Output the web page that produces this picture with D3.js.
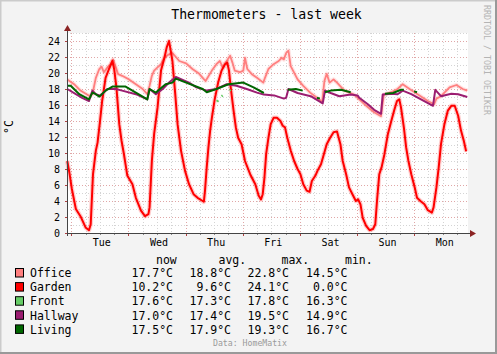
<!DOCTYPE html>
<html>
<head>
<meta charset="utf-8">
<script src="https://cdn.jsdelivr.net/npm/d3@7"></script>
<style>
  body { margin: 0; background: #f3f3f3; }
  svg { display: block; font-family: "DejaVu Sans Mono", monospace; }
</style>
</head>
<body>
<div id="chart"></div>
<script>
// days since Tue 00:00, value in °C
var days = ["Tue", "Wed", "Thu", "Fri", "Sat", "Sun", "Mon"];
var yLabels = [0, 2, 4, 6, 8, 10, 12, 14, 16, 18, 20, 22, 24];

var officeData = [[-0.07,19.2],[0.05,18.6],[0.16,17.8],[0.31,17.15],[0.37,17.35],[0.43,19.4],[0.49,20.5],[0.53,20.8],
  [0.57,20.1],[0.63,20.7],[0.69,21.1],[0.73,21.7],[0.78,20.7],[0.82,19.85],[0.89,19.65],[1.01,19.2],[1.13,18.6],
  [1.25,18.0],[1.33,17.35],[1.37,18.4],[1.41,19.65],[1.45,20.3],[1.51,20.7],[1.57,21.1],[1.63,21.9],[1.70,22.3],
  [1.77,22.5],[1.83,22.0],[1.89,21.5],[2.01,21.2],[2.12,20.5],[2.24,19.9],[2.30,19.4],[2.35,19.0],[2.46,20.3],
  [2.54,21.1],[2.60,21.5],[2.65,20.7],[2.72,21.5],[2.78,22.15],[2.82,21.3],[2.86,20.3],[2.95,20.1],[3.01,20.3],
  [3.04,21.9],[3.08,20.5],[3.16,19.85],[3.25,19.4],[3.36,18.8],[3.39,19.4],[3.45,20.5],[3.54,21.1],[3.63,21.5],
  [3.68,21.9],[3.72,21.7],[3.76,22.5],[3.80,22.8],[3.84,20.85],[3.96,19.2],[4.06,18.4],[4.18,17.55],[4.30,16.9],
  [4.39,16.4],[4.43,19.0],[4.47,19.9],[4.52,18.8],[4.59,19.2],[4.65,18.8],[4.78,17.8],[4.95,17.3],[5.13,16.1],
  [5.30,15.1],[5.42,14.6],[5.47,17.3],[5.60,17.6],[5.71,18.0],[5.80,18.6],[5.92,18.0],[6.06,17.35],[6.24,16.5],
  [6.35,16.1],[6.39,16.8],[6.47,17.1],[6.62,18.2],[6.74,18.5],[6.85,18.0],[6.93,17.8]];

var gardenData = [[-0.07,9.0],[-0.03,7.4],[0.01,5.5],[0.08,3.0],[0.16,2.1],[0.25,0.7],[0.31,0.35],[0.34,1.1],
  [0.38,7.35],[0.43,10.3],[0.46,11.3],[0.50,13.8],[0.54,16.5],[0.60,19.4],[0.66,20.5],[0.72,21.5],[0.75,20.5],
  [0.79,18.2],[0.84,13.6],[0.88,11.5],[0.92,9.9],[0.98,7.2],[1.07,6.1],[1.13,4.4],[1.22,2.8],[1.29,2.1],[1.35,2.35],
  [1.37,3.2],[1.41,9.0],[1.45,12.4],[1.51,15.7],[1.57,20.3],[1.63,21.9],[1.67,23.2],[1.71,24.0],[1.74,22.8],
  [1.77,21.5],[1.82,17.3],[1.86,13.6],[1.92,10.3],[1.99,7.8],[2.06,6.1],[2.14,4.85],[2.21,4.4],[2.30,4.0],
  [2.32,3.9],[2.34,5.3],[2.37,8.2],[2.40,10.7],[2.43,12.8],[2.46,14.4],[2.51,16.7],[2.57,18.8],[2.63,20.3],
  [2.69,21.1],[2.73,21.3],[2.76,20.3],[2.79,18.2],[2.84,15.3],[2.88,13.2],[2.92,11.9],[2.98,11.1],[3.04,9.0],
  [3.13,7.35],[3.22,6.1],[3.28,4.65],[3.32,4.2],[3.35,4.85],[3.38,6.9],[3.41,9.85],[3.45,11.9],[3.49,13.6],
  [3.54,14.4],[3.60,14.4],[3.66,14.0],[3.70,13.4],[3.74,13.2],[3.78,11.9],[3.84,10.3],[3.90,9.0],[3.96,8.0],
  [4.01,7.35],[4.06,6.1],[4.12,5.3],[4.17,5.15],[4.21,6.5],[4.27,7.15],[4.31,7.8],[4.37,8.6],[4.42,9.85],
  [4.47,11.1],[4.53,11.9],[4.59,12.6],[4.65,12.7],[4.71,11.1],[4.75,9.0],[4.81,7.35],[4.86,5.7],[4.92,4.85],
  [4.98,4.0],[5.02,4.2],[5.06,3.6],[5.10,1.9],[5.16,0.9],[5.22,0.35],[5.28,0.5],[5.32,1.1],[5.35,4.0],[5.39,7.35],
  [5.43,8.2],[5.48,9.85],[5.54,12.35],[5.60,14.0],[5.65,15.3],[5.70,16.5],[5.74,16.7],[5.77,15.7],[5.82,13.2],
  [5.86,10.7],[5.90,9.0],[5.95,7.35],[6.01,5.7],[6.05,4.4],[6.11,4.0],[6.18,3.6],[6.24,2.85],[6.31,2.55],
  [6.34,3.2],[6.39,5.7],[6.43,8.2],[6.47,11.1],[6.53,13.6],[6.59,15.3],[6.65,15.9],[6.71,15.9],[6.77,14.65],
  [6.82,12.8],[6.87,11.5],[6.91,10.2]];

// Front is almost completely hidden under the other lines, only these bits show
var frontData = [[2.55,16.4],[2.57,16.6],null,[2.63,17.1],[2.65,17.2],null,[2.77,17.8],[2.79,17.9]];

var hallwayData = [[-0.07,18.0],[0.08,17.35],[0.19,16.9],[0.31,16.5],[0.37,17.8],[0.43,17.35],[0.51,17.15],
  [0.63,18.0],[0.78,18.0],[0.89,17.8],[1.13,17.35],[1.33,16.7],[1.37,18.0],[1.48,17.35],[1.60,18.0],[1.71,18.8],
  [1.83,19.5],[2.06,18.8],[2.19,18.2],[2.37,17.8],[2.54,18.0],[2.72,18.6],[2.89,18.4],[3.07,18.0],[3.25,17.55],
  [3.37,17.3],[3.55,17.2],[3.72,16.8],[3.76,16.9],[3.80,18.0],[3.96,17.5],[4.19,17.1],[4.40,16.2],[4.44,17.8],
  [4.54,17.5],[4.69,17.1],[4.89,17.3],[5.01,17.2],[5.04,16.9],[5.19,16.1],[5.30,15.4],[5.42,14.9],[5.45,17.3],
  [5.60,17.4],[5.71,17.35],[5.80,17.8],[5.95,17.35],[6.12,16.7],[6.33,15.9],[6.37,17.9],[6.47,17.1],[6.65,17.4],
  [6.77,17.35],[6.93,17.0]];

var livingData = [[-0.07,18.4],[-0.01,18.4],[0.14,17.35],[0.31,16.7],[0.37,17.55],[0.43,17.35],[0.49,17.05],
  [0.60,17.8],[0.72,18.3],[0.95,18.3],[1.13,17.55],[1.33,16.7],[1.37,18.0],[1.48,17.55],[1.65,18.6],[1.77,18.8],
  [1.83,19.3],[2.01,18.8],[2.30,18.0],[2.37,17.6],[2.54,18.0],[2.75,18.6],[3.01,18.8],[3.19,18.2],[3.37,17.5],null,
  [3.79,17.9],[3.93,18.0],[4.05,17.8],null,
  [4.30,16.9],[4.35,16.8],null,
  [4.44,17.6],[4.54,17.8],[4.72,17.9],[4.89,17.6],null,
  [5.49,17.4],[5.63,17.5],[5.77,17.9],[5.82,17.9],null,
  [6.00,17.7],[6.05,17.6]];

var names = ["Office", "Garden", "Front", "Hallway", "Living"];
var nowVals = ["17.7", "10.2", "17.6", "17.0", "17.5"];
var avgVals = ["18.8", "9.6", "17.3", "17.4", "17.9"];
var maxVals = ["22.8", "24.1", "17.8", "19.5", "19.3"];
var minVals = ["14.5", "0.0", "16.3", "14.9", "16.7"];

var colors = ["#ff7f7f", "#ff0000", "#66cc66", "#9b1d71", "#006600"];

var W = 497, H = 354;

var svg = d3.select("#chart").append("svg")
    .attr("width", W)
    .attr("height", H);

// background + 3d frame
svg.append("rect").attr("width", W).attr("height", H).attr("fill", "#f3f3f3");
svg.append("path").attr("d", "M0.5," + (H - 0.5) + "V0.5H" + (W - 0.5))
    .attr("fill", "none").attr("stroke", "#cbcbcb").attr("stroke-width", 2);
svg.append("path").attr("d", "M0," + (H - 1) + "H" + (W - 1) + "V0")
    .attr("fill", "none").attr("stroke", "#999").attr("stroke-width", 2);

var x = d3.scaleLinear().domain([-0.075, 6.925]).range([67, 467]);
var y = d3.scaleLinear().domain([0, 25]).range([233, 33]);

svg.append("rect")
    .attr("x", x.range()[0]).attr("y", y(25))
    .attr("width", x.range()[1] - x.range()[0] + 1).attr("height", y(0) - y(25))
    .attr("fill", "#fff");

var grid = svg.append("g");

// horizontal grid
d3.range(1, 26).forEach(function(v){
    var major = v % 2 == 0;
    grid.append("line")
        .attr("x1", x.range()[0]).attr("x2", x.range()[1] + 1)
        .attr("y1", Math.round(y(v)) + 0.5).attr("y2", Math.round(y(v)) + 0.5)
        .attr("stroke", major ? "#e0a6a6" : "#d4d4d4")
        .attr("stroke-dasharray", "1,2");
});

// vertical grid, every 6 hours, midnights are major
d3.range(0, 28).forEach(function(i){
    var t = i / 4;
    var px = Math.round(x(t)) + 0.5;
    if (px > x.range()[1]) return;
    grid.append("line")
        .attr("x1", px).attr("x2", px)
        .attr("y1", y(25)).attr("y2", y(0))
        .attr("stroke", i % 4 == 0 ? "#e0a6a6" : "#d4d4d4")
        .attr("stroke-dasharray", "1,2");
    svg.append("line")
        .attr("x1", px).attr("x2", px)
        .attr("y1", y(0)).attr("y2", y(0) + (i % 4 == 0 ? 3 : 2))
        .attr("stroke", i % 4 == 0 ? "#b04040" : "#888");
});

// series
var line = d3.line()
    .defined(function(d){ return d != null; })
    .x(function(d){ return x(d[0]); })
    .y(function(d){ return y(d[1]); });

var plot = svg.append("g");

function drawSeries(data, color, width, shade){
    if (shade) {
        plot.append("path").datum(data)
            .attr("d", line).attr("fill", "none")
            .attr("stroke", color).attr("stroke-opacity", 0.2)
            .attr("stroke-width", width + 2.5).attr("stroke-linejoin", "round");
    }
    plot.append("path").datum(data)
        .attr("d", line).attr("fill", "none")
        .attr("stroke", color).attr("stroke-width", width)
        .attr("stroke-linejoin", "round");
}

drawSeries(officeData, colors[0], 1.8, true);
drawSeries(gardenData, colors[1], 2, true);
drawSeries(frontData, colors[2], 2.5, false);
drawSeries(hallwayData, colors[3], 2, false);
drawSeries(livingData, colors[4], 2, false);

// axes
var axisColor = "#444";
svg.append("line")
    .attr("x1", x.range()[0] - 2).attr("x2", x.range()[1] + 3)
    .attr("y1", y(0) + 0.5).attr("y2", y(0) + 0.5)
    .attr("stroke", axisColor);
svg.append("line")
    .attr("x1", x.range()[0] + 0.5).attr("x2", x.range()[0] + 0.5)
    .attr("y1", y(0) + 3).attr("y2", y(25) - 3)
    .attr("stroke", axisColor);
svg.append("path")
    .attr("d", "M" + (x.range()[0] + 0.5) + "," + (y(25) - 8) + "l-3.5,6h7z")
    .attr("fill", "#8b2323");
svg.append("path")
    .attr("d", "M" + (x.range()[1] + 9) + "," + (y(0) + 0.5) + "l-6,-3.5v7z")
    .attr("fill", "#8b2323");

yLabels.forEach(function(v){
    svg.append("line")
        .attr("x1", x.range()[0] - 2).attr("x2", x.range()[0])
        .attr("y1", Math.round(y(v)) + 0.5).attr("y2", Math.round(y(v)) + 0.5)
        .attr("stroke", "#b04040");
    svg.append("text")
        .attr("x", 60).attr("y", y(v))
        .attr("dy", "0.36em")
        .attr("text-anchor", "end")
        .attr("font-size", "10px")
        .text(v);
});

days.forEach(function(d, i){
    svg.append("text")
        .attr("x", x(i + 0.5) + 2).attr("y", 246)
        .attr("text-anchor", "middle")
        .attr("font-size", "10px")
        .text(d);
});

// title, unit, watermark
svg.append("text")
    .attr("x", 266.5).attr("y", 18.5)
    .attr("text-anchor", "middle")
    .attr("font-size", "13.2px")
    .text("Thermometers - last week");

svg.append("text")
    .attr("transform", "translate(13,127) rotate(-90)")
    .attr("text-anchor", "middle")
    .attr("font-size", "11.5px")
    .text("°C");

svg.append("text")
    .attr("transform", "translate(483.5,5) rotate(90)")
    .attr("font-size", "8.3px")
    .attr("fill", "#b4b4b4")
    .text("RRDTOOL / TOBI OETIKER");

// legend
var legend = svg.append("g").attr("font-size", "11.5px");
var headers = [["now", 156], ["avg.", 218.5], ["max.", 281.5], ["min.", 345]];
headers.forEach(function(h){
    legend.append("text").attr("x", h[1]).attr("y", 263.5).text(h[0]);
});

var colEnds = [173, 231, 289, 347.5];
names.forEach(function(n, i){
    var top = 268.5 + i * 14.1;
    legend.append("rect")
        .attr("x", 15.5).attr("y", top)
        .attr("width", 8).attr("height", 8.5)
        .attr("fill", colors[i]).attr("stroke", "#000");
    legend.append("text").attr("x", 30).attr("y", top + 8.7).text(n);
    [nowVals[i], avgVals[i], maxVals[i], minVals[i]].forEach(function(v, j){
        legend.append("text")
            .attr("x", colEnds[j]).attr("y", top + 8.7)
            .attr("text-anchor", "end")
            .text(v + "°C");
    });
});

svg.append("text")
    .attr("x", 250).attr("y", 346)
    .attr("text-anchor", "middle")
    .attr("font-size", "8.2px")
    .attr("fill", "#9a9a9a")
    .text("Data: HomeMatix");
</script>
</body>
</html>
